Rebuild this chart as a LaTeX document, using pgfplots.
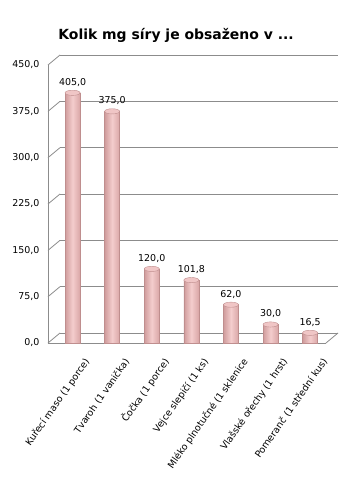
\documentclass[border=0pt]{standalone}
\usepackage{pgfplots}
\pgfplotsset{compat=1.18}
\usepackage{fontspec}
\setmainfont{DejaVu Sans}
\definecolor{gridc}{HTML}{8C8C8C}
\definecolor{barL}{HTML}{CF9C9C}
\definecolor{barM}{HTML}{F4CDCD}
\definecolor{barR}{HTML}{D9A6A6}
\definecolor{barE}{HTML}{BF8E8E}
\definecolor{barT}{HTML}{F0C6C6}
\pgfdeclareplotmark{cyltop}{%
  \pgfpathellipse{\pgfpointorigin}{\pgfpoint{7.5bp}{0pt}}{\pgfpoint{0pt}{2.6bp}}%
  \pgfusepathqfillstroke}
\pgfplotsset{cylbar/.style={draw=barE, line width=0.4pt, left color=barL, right color=barR, middle color=barM, forget plot}}
\begin{document}
\begin{tikzpicture}
\path[use as bounding box] (0,0) rectangle (363bp,499bp);
\node[font=\bfseries\fontsize{14}{16}\selectfont] at (176bp,464bp) {Kolik mg síry je obsaženo v ...};
% back wall with gridlines
\begin{axis}[at={(60bp,166bp)}, anchor=south west, scale only axis,
  width=278bp, height=278bp, xmin=0, xmax=1, ymin=0, ymax=450,
  ytick={0,75,...,450}, yticklabels={}, xtick=\empty,
  ymajorgrids, grid style={gridc, line width=0.8pt},
  axis line style={draw=none}, major tick length=0]
\addplot[draw=none] coordinates {(0,0)};
\end{axis}
% front axis with bars
\begin{axis}[at={(48bp,156bp)}, anchor=south west, scale only axis,
  width=278bp, height=278bp, xmin=-0.62, xmax=6.4, ymin=0, ymax=450,
  ytick={0,75,...,450}, xtick={0,...,6},
  xticklabels={Kuřecí maso (1 porce), Tvaroh (1 vanička), Čočka (1 porce), Vejce slepičí (1 ks), Mléko plnotučné (1 sklenice, Vlašské ořechy (1 hrst), Pomeranč (1 střední kus)},
  axis x line*=bottom, axis y line*=left,
  axis line style={gridc, line width=0.8pt, -},
  major tick length=0,
  scaled y ticks=false,
  yticklabel style={xshift=-5bp, /pgf/number format/fixed, /pgf/number format/fixed zerofill, /pgf/number format/precision=1, /pgf/number format/use comma, /pgf/number format/assume math mode=true},
  ticklabel style={font=\fontsize{9.5}{11}\selectfont},
  xticklabel style={xshift=17bp, yshift=-14bp, rotate=55, anchor=east},
  ybar, bar width=15bp, bar shift=0pt,
  every node near coord/.append style={font=\fontsize{9.5}{11}\selectfont, black, yshift=3bp,
    /pgf/number format/fixed, /pgf/number format/fixed zerofill, /pgf/number format/precision=1, /pgf/number format/use comma, /pgf/number format/assume math mode=true},
  clip=false]
\pgfplotsinvokeforeach{0,75,150,225,300,375,450}{
  \draw[gridc, line width=0.8pt] (axis cs:-0.62,#1) -- ++(12bp,10bp);
}
\draw[gridc, line width=0.8pt] (rel axis cs:1,0) -- ++(12bp,10bp);
\addplot[cylbar] coordinates {(0,405.0)};
\addplot[cylbar] coordinates {(1,375.0)};
\addplot[cylbar] coordinates {(2,120.0)};
\addplot[cylbar] coordinates {(3,101.8)};
\addplot[cylbar] coordinates {(4,62.0)};
\addplot[cylbar] coordinates {(5,30.0)};
\addplot[cylbar] coordinates {(6,16.5)};
\addplot[only marks, mark=cyltop, mark options={draw=barE, fill=barT, line width=0.4pt}, nodes near coords] coordinates {
(0,405.0) (1,375.0) (2,120.0) (3,101.8) (4,62.0) (5,30.0) (6,16.5)};
\end{axis}
\end{tikzpicture}
\end{document}
